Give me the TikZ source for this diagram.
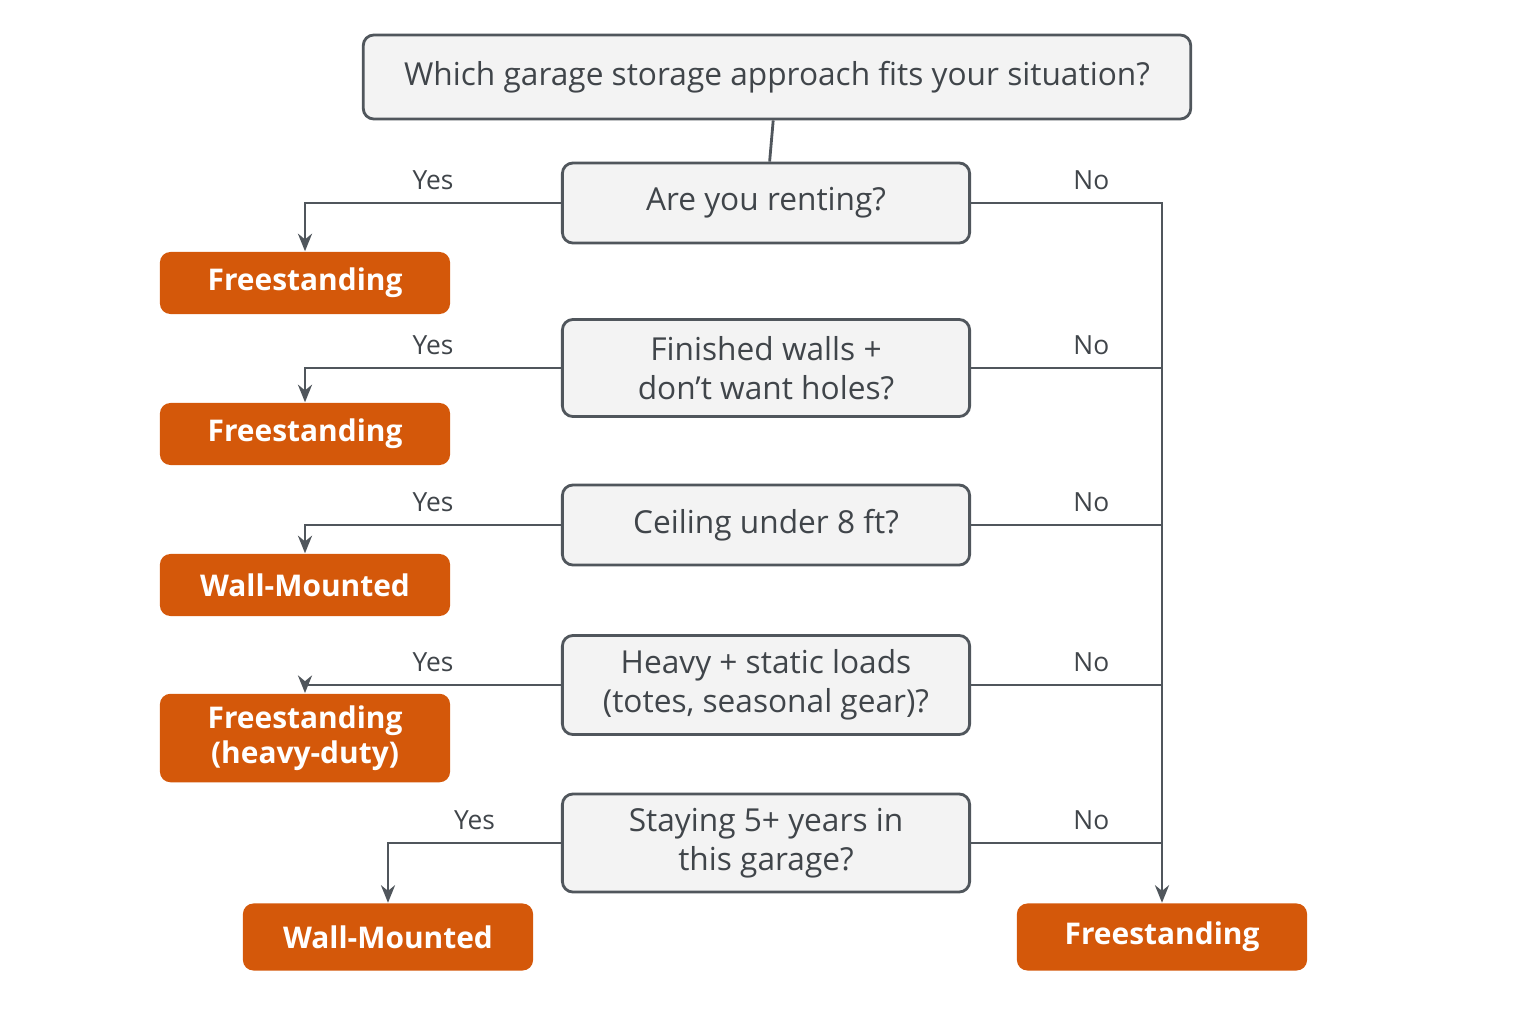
\documentclass[tikz,border=0pt]{standalone}
\usepackage{fontspec}
\setmainfont{Open Sans}
\usetikzlibrary{arrows.meta}
\definecolor{boxline}{HTML}{50565C}
\definecolor{boxfill}{HTML}{F3F3F3}
\definecolor{pick}{HTML}{D4580A}
\begin{document}
\begin{tikzpicture}[x={(0.01cm,0)}, y={(0,-0.01cm)},
  question/.style={draw=boxline, fill=boxfill, line width=0.8pt, rounded corners=3pt,
    minimum width=4.07cm, minimum height=0.8cm, align=center, text=boxline!80!black,
    font=\fontsize{9}{11}\selectfont},
  answer/.style={fill=pick, rounded corners=3pt, minimum width=2.9cm, minimum height=0.62cm,
    align=center, text=white, font=\fontsize{8.5}{10}\selectfont\bfseries},
  link/.style={draw=boxline, line width=0.8pt},
  tip/.style={link, -{Stealth[length=5pt,width=4pt]}},
  lbl/.style={font=\fontsize{7.5}{9}\selectfont, text=boxline!80!black}]
  \useasboundingbox (0,0) rectangle (1536,1024);
  \node[question, minimum width=8.27cm, minimum height=0.84cm] (title) at (777,77) {Which garage storage approach fits your situation?};
  \node[question] (q1) at (766,203) {Are you renting?};
  \node[question, minimum height=0.97cm] (q2) at (766,368) {Finished walls +\\don't want holes?};
  \node[question] (q3) at (766,525) {Ceiling under 8 ft?};
  \node[question, minimum height=0.99cm] (q4) at (766,685) {Heavy + static loads\\(totes, seasonal gear)?};
  \node[question, minimum height=0.98cm] (q5) at (766,843) {Staying 5+ years in\\this garage?};
  % outcomes
  \node[answer] (a1) at (305,283) {Freestanding};
  \node[answer] (a2) at (305,434) {Freestanding};
  \node[answer] (a3) at (305,585) {Wall-Mounted};
  \node[answer, minimum height=0.86cm] (a4) at (305,738) {Freestanding\\(heavy-duty)};
  \node[answer, minimum height=0.67cm] (a5) at (388,937) {Wall-Mounted};
  \node[answer, minimum height=0.67cm] (final) at (1162,937) {Freestanding};
  \draw[link] (title) -- (q1);
  % yes branches
  \foreach \q/\a in {q1/a1, q2/a2, q3/a3, q4/a4, q5/a5}
    \draw[tip] (\q.west) -| node[lbl, above, pos=0.25] {Yes} (\a.north);
  % no branches
  \coordinate (trunk) at (q1.east -| final.north);
  \draw[tip] (q1.east) -- node[lbl, above, pos=0.63] {No} (trunk) -- (final.north);
  \foreach \q in {q2, q3, q4, q5}
    \draw[link] (\q.east) -- node[lbl, above, pos=0.63] {No} (\q.east -| final.north);
\end{tikzpicture}
\end{document}
